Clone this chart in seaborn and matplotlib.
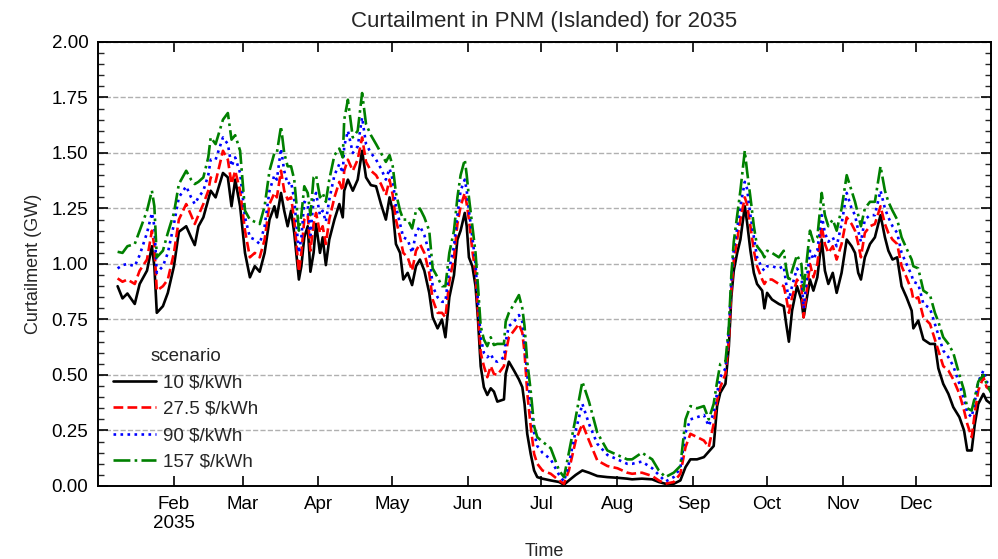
import numpy as np
import pandas as pd
import matplotlib
matplotlib.use("Agg")
import matplotlib.pyplot as plt
from matplotlib.ticker import MultipleLocator, FormatStrFormatter
import seaborn as sns

# Day of year (0 = 1 Jan 2035) for each sample
days = [
    8, 10, 12, 15, 17, 20, 22, 23, 24, 26.5, 28.5, 31, 33, 36, 38, 39.5, 41, 43, 45, 46,
    48, 51, 53, 54.5, 56, 58, 60, 62, 64, 66, 68, 70, 72,
    73, 74.7, 76, 77.4, 78.8, 80.1, 82, 83, 84.2, 85.6, 86.7, 88, 89, 90.6, 91.7, 93,
    94.4, 96.5, 98.5, 99.9, 100.5, 102, 104, 106, 107.8, 109.4, 111.4, 113.5, 115.5,
    117.5, 119, 120.3, 121.6, 123.3, 124.6, 126.4, 128.2, 129.8, 131.4, 133.2, 135.2,
    136.6, 138.6, 140.4, 141.8, 143.4,
    145.3, 146.7, 148, 149.7, 150.5, 151.4, 152.8, 154.1, 155.1, 156.2, 157.5, 158.9,
    160.3, 161.6, 163, 165.7, 166.4, 167.7, 169.8, 171.8, 173.2, 174.1, 175.2, 176.6,
    178, 179.3, 181.4, 184.8, 188.2, 190.2, 192.2, 195, 197.7, 200.4, 203.8, 207.9,
    212, 216,
    218, 222, 226.2, 228.9, 231.6, 235, 237.7, 239.8, 241.8, 244.5, 247.3, 249.3,
    251.3, 252.7, 254, 256.1, 257.5, 258.5, 259.5, 260.9, 262.2, 264, 264.9, 266.3,
    267.7, 269, 271.1, 272, 273.1, 275.1, 277.9, 279.9, 280.9, 282, 283.3, 285.3,
    287.1, 288,
    290.6, 292, 293.6, 295.4, 296.7, 298.1, 299.9, 301.5, 303.5, 305.6, 307.6, 309,
    310.3, 311.4, 313, 315.1, 317.1, 319.4, 321.2, 322.6, 324.3, 326.2, 328, 330,
    332.1, 332.8, 334.8, 336.9, 339.6, 341.6, 343, 345, 347.1, 349.1, 351.6, 353.5,
    354.8, 356.6, 357.9, 359.3, 361.4, 362.7, 364.5,
]

curt_10 = [
    0.90, 0.845, 0.867, 0.82, 0.91, 0.97, 1.08, 0.99, 0.78, 0.81, 0.87, 0.99, 1.145, 1.17,
    1.12, 1.085, 1.17, 1.21, 1.29, 1.33, 1.30, 1.41, 1.39, 1.26, 1.38, 1.26, 1.05, 0.94,
    0.99, 0.965, 1.05, 1.20, 1.26,
    1.21, 1.32, 1.24, 1.17, 1.24, 1.14, 0.93, 0.99, 1.12, 1.17, 0.965, 1.05, 1.18, 1.05,
    1.12, 0.995, 1.11, 1.20, 1.27, 1.21, 1.33, 1.38, 1.33, 1.38, 1.51, 1.39, 1.355, 1.35,
    1.27, 1.20, 1.30, 1.24, 1.09, 1.05, 0.93, 0.96, 0.905, 0.99, 1.02, 0.97, 0.87, 0.76,
    0.71, 0.75, 0.67, 0.85,
    0.95, 1.11, 1.15, 1.23, 1.17, 1.03, 0.99, 0.90, 0.75, 0.54, 0.445, 0.41, 0.44, 0.425,
    0.38, 0.39, 0.505, 0.56, 0.52, 0.48, 0.445, 0.37, 0.235, 0.145, 0.07, 0.04, 0.033,
    0.025, 0.018, 0.006, 0.025, 0.05, 0.07, 0.06, 0.045, 0.04, 0.037, 0.033,
    0.03, 0.033, 0.03, 0.018, 0.01, 0.01, 0.025, 0.085, 0.12, 0.12, 0.13, 0.155, 0.18,
    0.36, 0.42, 0.46, 0.63, 0.85, 0.97, 1.05, 1.11, 1.26, 1.19, 1.06, 0.96, 0.91, 0.88,
    0.80, 0.87, 0.84, 0.82, 0.81, 0.73, 0.65, 0.79, 0.90, 0.84, 0.76,
    0.93, 0.88, 0.94, 1.11, 0.97, 0.91, 0.96, 0.87, 0.96, 1.11, 1.08, 1.05, 0.96, 0.93,
    1.03, 1.09, 1.12, 1.22, 1.12, 1.06, 1.02, 1.03, 0.90, 0.85, 0.79, 0.71, 0.745, 0.66,
    0.64, 0.64, 0.53, 0.46, 0.415, 0.355, 0.31, 0.25, 0.16, 0.16, 0.28, 0.37, 0.415,
    0.385, 0.37,
]

curt_27 = [
    0.935, 0.92, 0.93, 0.91, 0.97, 1.02, 1.15, 1.08, 0.88, 0.90, 0.93, 1.05, 1.20, 1.27,
    1.22, 1.18, 1.22, 1.27, 1.33, 1.39, 1.37, 1.51, 1.47, 1.36, 1.42, 1.33, 1.15, 1.03,
    1.05, 1.03, 1.11, 1.27, 1.32,
    1.30, 1.42, 1.33, 1.29, 1.30, 1.20, 0.965, 1.05, 1.20, 1.22, 1.06, 1.18, 1.23, 1.14,
    1.17, 1.09, 1.20, 1.30, 1.37, 1.33, 1.42, 1.47, 1.42, 1.47, 1.57, 1.46, 1.42, 1.40,
    1.36, 1.31, 1.38, 1.31, 1.20, 1.12, 1.05, 1.03, 0.97, 1.06, 1.09, 1.05, 0.96, 0.84,
    0.78, 0.78, 0.76, 0.92,
    1.03, 1.18, 1.26, 1.32, 1.27, 1.20, 1.06, 0.96, 0.78, 0.60, 0.54, 0.49, 0.54, 0.505,
    0.50, 0.54, 0.60, 0.67, 0.70, 0.73, 0.69, 0.60, 0.42, 0.27, 0.145, 0.10, 0.07, 0.055,
    0.025, 0.01, 0.07, 0.205, 0.28, 0.205, 0.115, 0.09, 0.08, 0.06,
    0.055, 0.06, 0.045, 0.025, 0.01, 0.018, 0.055, 0.175, 0.235, 0.22, 0.205, 0.175, 0.28,
    0.385, 0.445, 0.505, 0.655, 0.88, 1.015, 1.11, 1.20, 1.30, 1.27, 1.17, 1.06, 0.99,
    0.93, 0.91, 0.93, 0.93, 0.91, 0.90, 0.85, 0.78, 0.85, 0.93, 0.90, 0.76,
    1.00, 0.94, 1.00, 1.17, 1.09, 1.05, 1.08, 1.02, 1.09, 1.21, 1.18, 1.15, 1.09, 1.03,
    1.14, 1.17, 1.18, 1.26, 1.18, 1.14, 1.11, 1.09, 0.99, 0.94, 0.88, 0.84, 0.85, 0.76,
    0.73, 0.66, 0.61, 0.54, 0.52, 0.48, 0.415, 0.34, 0.28, 0.22, 0.33, 0.43, 0.49,
    0.445, 0.43,
]

curt_90 = [
    0.98, 0.995, 1.00, 0.99, 1.04, 1.14, 1.23, 1.17, 0.96, 0.99, 1.05, 1.18, 1.30, 1.35,
    1.30, 1.27, 1.30, 1.33, 1.40, 1.47, 1.47, 1.57, 1.54, 1.44, 1.48, 1.41, 1.21, 1.12,
    1.11, 1.09, 1.17, 1.33, 1.40,
    1.38, 1.52, 1.42, 1.36, 1.37, 1.29, 1.05, 1.12, 1.28, 1.27, 1.13, 1.29, 1.32, 1.22,
    1.24, 1.19, 1.29, 1.40, 1.45, 1.41, 1.53, 1.60, 1.50, 1.53, 1.66, 1.54, 1.50, 1.47,
    1.43, 1.38, 1.43, 1.38, 1.26, 1.18, 1.12, 1.11, 1.05, 1.14, 1.17, 1.13, 1.05, 0.90,
    0.85, 0.83, 0.83, 0.98,
    1.08, 1.22, 1.33, 1.38, 1.33, 1.24, 1.12, 1.00, 0.83, 0.67, 0.60, 0.58, 0.595, 0.565,
    0.56, 0.58, 0.65, 0.72, 0.74, 0.77, 0.74, 0.65, 0.50, 0.37, 0.24, 0.18, 0.15, 0.12,
    0.05, 0.02, 0.10, 0.25, 0.37, 0.28, 0.19, 0.14, 0.12, 0.10,
    0.10, 0.11, 0.08, 0.05, 0.02, 0.04, 0.08, 0.24, 0.30, 0.31, 0.32, 0.27, 0.33, 0.42,
    0.49, 0.53, 0.70, 0.92, 1.07, 1.16, 1.26, 1.37, 1.34, 1.22, 1.12, 1.03, 0.98, 0.97,
    0.99, 0.99, 0.98, 0.99, 0.91, 0.84, 0.90, 0.98, 0.95, 0.80,
    1.06, 1.02, 1.06, 1.22, 1.14, 1.10, 1.12, 1.08, 1.18, 1.32, 1.25, 1.22, 1.15, 1.10,
    1.20, 1.22, 1.22, 1.33, 1.25, 1.21, 1.17, 1.14, 1.05, 1.00, 0.95, 0.92, 0.91, 0.82,
    0.80, 0.73, 0.68, 0.61, 0.58, 0.54, 0.46, 0.39, 0.33, 0.31, 0.38, 0.47, 0.52,
    0.47, 0.45,
]

curt_157 = [
    1.055, 1.05, 1.08, 1.09, 1.15, 1.24, 1.33, 1.26, 1.03, 1.06, 1.14, 1.23, 1.36, 1.42,
    1.38, 1.36, 1.37, 1.39, 1.48, 1.57, 1.54, 1.65, 1.68, 1.56, 1.58, 1.51, 1.24, 1.20,
    1.19, 1.18, 1.26, 1.42, 1.50,
    1.50, 1.62, 1.50, 1.44, 1.44, 1.38, 1.15, 1.22, 1.35, 1.32, 1.22, 1.39, 1.40, 1.30,
    1.32, 1.28, 1.38, 1.49, 1.52, 1.48, 1.65, 1.74, 1.57, 1.60, 1.77, 1.63, 1.58, 1.54,
    1.50, 1.46, 1.49, 1.44, 1.32, 1.24, 1.20, 1.20, 1.16, 1.24, 1.25, 1.21, 1.15, 0.98,
    0.94, 0.90, 0.90, 1.05,
    1.15, 1.30, 1.40, 1.47, 1.40, 1.30, 1.17, 1.05, 0.90, 0.72, 0.66, 0.63, 0.67, 0.635,
    0.64, 0.64, 0.74, 0.78, 0.82, 0.86, 0.80, 0.72, 0.56, 0.43, 0.27, 0.22, 0.20, 0.17,
    0.07, 0.04, 0.15, 0.31, 0.47, 0.38, 0.24, 0.16, 0.14, 0.12,
    0.12, 0.15, 0.12, 0.07, 0.04, 0.06, 0.09, 0.30, 0.36, 0.35, 0.36, 0.30, 0.37, 0.47,
    0.55, 0.56, 0.72, 0.95, 1.10, 1.22, 1.33, 1.51, 1.42, 1.30, 1.17, 1.08, 1.05, 1.03,
    1.06, 1.05, 1.03, 1.06, 0.98, 0.92, 0.97, 1.04, 1.00, 0.88,
    1.15, 1.10, 1.12, 1.32, 1.22, 1.17, 1.20, 1.15, 1.25, 1.40, 1.33, 1.28, 1.22, 1.17,
    1.25, 1.28, 1.28, 1.44, 1.33, 1.28, 1.24, 1.20, 1.12, 1.07, 1.02, 0.99, 0.98, 0.88,
    0.86, 0.78, 0.74, 0.67, 0.64, 0.60, 0.50, 0.43, 0.35, 0.34, 0.40, 0.47, 0.50,
    0.46, 0.42,
]

scenarios = ["10 $/kWh", "27.5 $/kWh", "90 $/kWh", "157 $/kWh"]
series = [curt_10, curt_27, curt_90, curt_157]
colors = ["black", "red", "blue", "green"]
linestyles = ["-", "--", ":", "-."]

month_labels = ["Feb\n2035", "Mar", "Apr", "May", "Jun", "Jul",
                "Aug", "Sep", "Oct", "Nov", "Dec"]

start = pd.Timestamp("2035-01-01")
times = start + pd.to_timedelta(np.array(days), unit="D")

frames = []
for name, vals in zip(scenarios, series):
    frames.append(pd.DataFrame({"Time": times, "Curtailment (GW)": vals, "scenario": name}))
df = pd.concat(frames, ignore_index=True)

sns.set_theme(style="ticks")
plt.rcParams["font.family"] = ["Liberation Sans", "DejaVu Sans"]
plt.rcParams["axes.unicode_minus"] = False

fig = plt.figure(figsize=(9.98, 5.59), dpi=100)
ax = fig.add_axes([0.0982, 0.1306, 0.8948, 0.7943])

for name, col, ls in zip(scenarios, colors, linestyles):
    sub = df[df["scenario"] == name]
    sns.lineplot(data=sub, x="Time", y="Curtailment (GW)", color=col,
                 linestyle=ls, linewidth=1.9, label=name, ax=ax)

ax.set_ylim(0, 2.0)
ax.set_xlim(start, start + pd.Timedelta(days=364.5))
ax.yaxis.set_major_locator(MultipleLocator(0.25))
ax.yaxis.set_minor_locator(MultipleLocator(0.05))
ax.yaxis.set_major_formatter(FormatStrFormatter("%.2f"))

month_ticks = [pd.Timestamp(f"2035-{m:02d}-01") for m in range(2, 13)]
ax.set_xticks(month_ticks)
ax.set_xticklabels(month_labels)

ax.grid(axis="y", which="major", linestyle="--", color="#b0b0b0", linewidth=1.0)
ax.tick_params(axis="both", which="major", direction="in", length=7, width=1.2,
               top=True, right=True, labelsize=13.5, colors="black", pad=7)
ax.tick_params(axis="y", which="minor", direction="in", length=4, width=1.0,
               left=True, right=True)
ax.tick_params(axis="x", which="minor", bottom=False, top=False)
for sp in ax.spines.values():
    sp.set_linewidth(1.4)
    sp.set_color("black")

ax.set_xlabel("Time", fontsize=13, labelpad=8)
ax.set_ylabel("Curtailment (GW)", fontsize=13, labelpad=7)
ax.set_title("Curtailment in PNM (Islanded) for 2035", fontsize=16, pad=11)

leg = ax.legend(title="scenario", loc="lower left", bbox_to_anchor=(0.0, 0.0),
                frameon=False, fontsize=13.5, title_fontsize=13.5, handlelength=2.3,
                handletextpad=0.35, labelspacing=0.5, borderpad=0.3)

fig.savefig("out.png", dpi=100)
